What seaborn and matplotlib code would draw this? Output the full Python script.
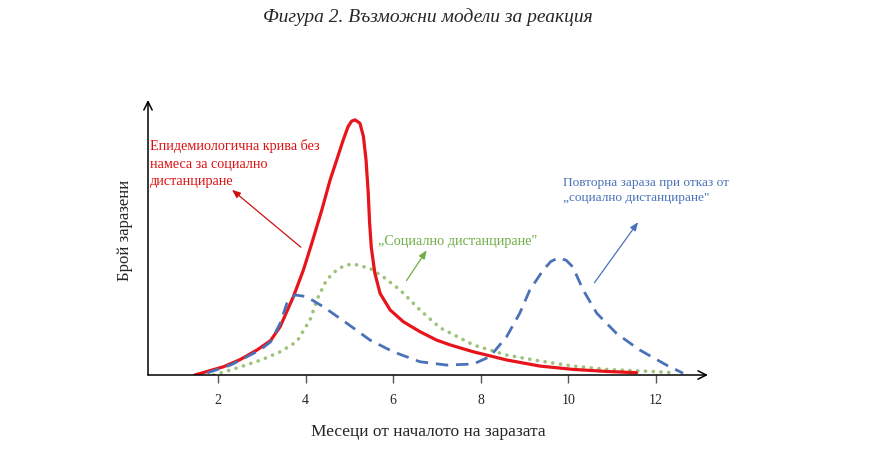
import matplotlib
matplotlib.use('Agg')
import matplotlib.pyplot as plt
import seaborn as sns

# Епидемиологична крива без намеса
red_x = [1.47, 2.12, 2.5, 2.89, 3.2, 3.42, 3.72, 3.95, 4.14, 4.37, 4.56, 4.71, 4.86, 4.97, 5.05,
         5.13, 5.24, 5.32, 5.38, 5.43, 5.46, 5.5, 5.58, 5.7, 5.93, 6.23, 6.61, 6.99, 7.3, 7.83,
         8.59, 9.35, 10.11, 10.87, 11.56]
red_y = [0, 3.2, 6, 9.8, 13.5, 19, 30.7, 41.2, 51.6, 64.7, 76.5, 84.3, 92.2, 97.4, 99.5,
         100, 98.7, 93.5, 84.3, 71.3, 60, 50, 40, 32, 25.5, 20.9, 17, 13.7, 11.8, 9.1,
         5.9, 3.5, 2.2, 1.4, 0.9]

# Социално дистанциране
green_x = [1.9, 2.5, 3.0, 3.42, 3.8, 4.1, 4.29, 4.48, 4.71, 4.9, 5.09, 5.47, 5.77, 6.16, 6.61,
           7.07, 7.3, 7.83, 8.59, 9.35, 10.11, 10.87, 11.5, 12.0, 12.4]
green_y = [0, 3.1, 6, 9.1, 13.1, 21.6, 30.7, 37.3, 41.2, 43, 43.5, 41.8, 38.5, 33.3, 25.5,
           18.5, 16.5, 11.8, 7.8, 5.5, 3.5, 2.2, 1.7, 1.3, 0.9]

# Повторна зараза
blue_x = [1.75, 2.3, 2.96, 3.2, 3.42, 3.57, 3.76, 4.02, 4.4, 4.94, 5.47, 6.0, 6.61, 7.22, 7.83,
          8.21, 8.59, 8.89, 9.12, 9.42, 9.6, 9.77, 9.95, 10.1, 10.34, 10.65, 11.1, 11.63, 12.24, 12.62]
blue_y = [0.8, 4, 9.8, 13, 20.3, 28, 31.4, 30.7, 26.8, 20.3, 13.7, 9.1, 5.2, 3.9, 4.3,
          7.2, 15, 24.2, 33.3, 41, 44.5, 45.9, 45, 42.4, 33.3, 24.2, 16.3, 9.8, 3.9, 0.7]

x_ticks = [2, 4, 6, 8, 10, 12]

sns.set_style('white')
plt.rcParams['font.family'] = ['Liberation Serif', 'DejaVu Serif']

fig = plt.figure(figsize=(8.79, 4.58), dpi=100)
ax = fig.add_axes([148 / 879, 83 / 458, 560 / 879, 275 / 458])

red = '#e8141b'
green = '#9dc37a'
blue = '#4a72b8'

sns.lineplot(x=green_x, y=green_y, ax=ax, color=green, linewidth=2.6,
             linestyle=(0, (0.05, 2.1)), dash_capstyle='round', sort=False)
sns.lineplot(x=red_x, y=red_y, ax=ax, color=red, linewidth=2.3, sort=False)
sns.lineplot(x=blue_x, y=blue_y, ax=ax, color=blue, linewidth=2.0,
             linestyle=(0, (4.5, 2.8)), sort=False)

ax.set_xlim(0.4, 13.19)
ax.set_ylim(0, 107.8)
for s in ax.spines.values():
    s.set_visible(False)

# осите със стрелки
ax.annotate('', xy=(1, 0), xytext=(0, 0), xycoords='axes fraction',
            arrowprops=dict(arrowstyle='->,head_length=0.6,head_width=0.3', lw=1.1, color='black',
                            shrinkA=0, shrinkB=0))
ax.annotate('', xy=(0, 1), xytext=(0, 0), xycoords='axes fraction',
            arrowprops=dict(arrowstyle='->,head_length=0.6,head_width=0.3', lw=1.1, color='black',
                            shrinkA=0, shrinkB=0))

ax.set_xticks(x_ticks)
ax.set_xticklabels([str(t) for t in x_ticks])
ax.set_yticks([])
ax.tick_params(axis='x', bottom=True, direction='out', length=6, width=1, color='#555555',
               pad=8, labelsize=10)

ax.set_xlabel('Месеци от началото на заразата', fontsize=12.5, labelpad=12)
ax.set_ylabel('Брой заразени', fontsize=12)
ax.yaxis.set_label_coords(-0.027, 0.527)

fig.text(0.487, 0.963, 'Фигура 2. Възможни модели за реакция', ha='center', va='center',
         fontsize=14, style='italic')

# надписи и стрелки
ax.text(0.45, 92.5, 'Епидемиологична крива без\nнамеса за социално\nдистанциране', color='#dc1010',
        fontsize=10.2, va='top', ha='left', linespacing=1.45)
ax.annotate('', xy=(2.27, 73.3), xytext=(3.94, 49.4),
            arrowprops=dict(arrowstyle='-|>,head_length=0.5,head_width=0.2', lw=0.9, color='#d01010'))

ax.text(5.65, 52.5, '„Социално дистанциране"', color='#70ad47', fontsize=10.3, va='center', ha='left')
ax.annotate('', xy=(6.80, 49.8), xytext=(6.27, 36.1),
            arrowprops=dict(arrowstyle='-|>,head_length=0.5,head_width=0.2', lw=0.9, color='#70ad47'))

ax.text(9.87, 72.4, 'Повторна зараза при отказ от\n„социално дистанциране"', color='#4a72b8',
        fontsize=9.6, va='center', ha='left', linespacing=1.35)
ax.annotate('', xy=(11.63, 60.8), xytext=(10.56, 35.3),
            arrowprops=dict(arrowstyle='-|>,head_length=0.5,head_width=0.2', lw=0.9, color='#4a72b8'))

fig.savefig('out.png', dpi=100)
